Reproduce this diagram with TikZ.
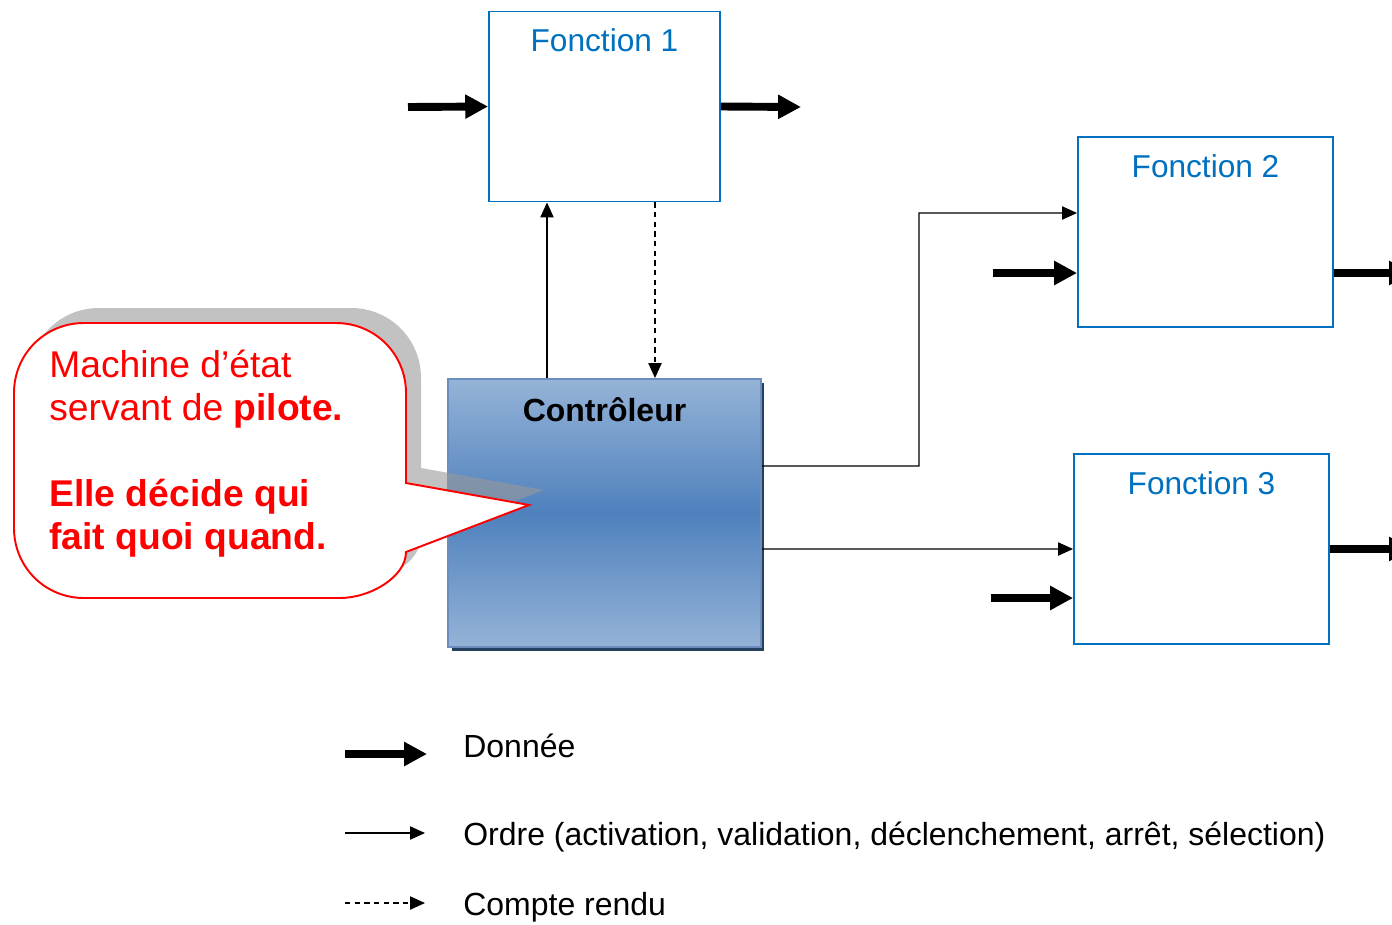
\documentclass[tikz,border=0pt]{standalone}
\usepackage{fontspec}
\setmainfont{Liberation Sans}
\usetikzlibrary{arrows.meta,shadows}

\definecolor{fctblue}{HTML}{0070C0}
\definecolor{ctrllight}{HTML}{95B3D7}
\definecolor{ctrldark}{HTML}{4F81BD}
\definecolor{ctrledge}{HTML}{6C8EBF}
\definecolor{ctrlshadow}{HTML}{24405F}

\newcommand\bubblepath{(406,483) -- (529,505) -- (406,552)
  .. controls (406,577) and (370,598) .. (340,598) -- (84,598)
  .. controls (45,598) and (14,567) .. (14,528) -- (14,393)
  .. controls (14,354) and (45,323) .. (84,323) -- (336,323)
  .. controls (375,323) and (406,354) .. (406,393) -- cycle}

\begin{document}
\begin{tikzpicture}[
    x=0.02cm, y=-0.02cm,
    fonction/.style={draw=fctblue, line width=1.1pt, fill=white,
                     minimum width=#1, minimum height=3.8cm, inner sep=0pt},
    fonction/.default=5.1cm,
    title/.style={text=fctblue, font=\fontsize{18}{21}\selectfont, anchor=base},
    controleur/.style={draw=ctrledge, line width=1.1pt,
                       top color=ctrllight, bottom color=ctrllight, middle color=ctrldark,
                       minimum width=6.26cm, minimum height=5.36cm, inner sep=0pt,
                       drop shadow={shadow xshift=0.07cm, shadow yshift=-0.08cm,
                                    fill=ctrlshadow, opacity=1}},
    data/.style={line width=4.5pt, -{Triangle[length=13pt,width=13pt]}},
    order/.style={line width=0.8pt, -{Triangle[length=8.5pt,width=7.5pt]}},
    report/.style={order, dash pattern=on 3pt off 2.5pt},
    bubble/.style={draw=red, line width=1.1pt, fill=white, line join=miter},
    bubbletext/.style={text=red, font=\fontsize{21.2}{24.4}\selectfont,
                       align=left, inner sep=0pt},
    legend/.style={font=\fontsize{18.2}{21}\selectfont, inner sep=0pt}
  ]
  \useasboundingbox (0,0) rectangle (1392,924);
  \clip (0,0) rectangle (1392,924);

  \node[fonction=4.62cm] (f1) at (604.5,106.5) {};
  \node[fonction] (f2) at (1205.5,232) {};
  \node[fonction] (f3) at (1201.5,549) {};
  \node[title] (t1) at ([yshift=-0.81cm]f1.north) {Fonction 1};
  \node[title] (t2) at ([yshift=-0.82cm]f2.north) {Fonction 2};
  \node[title] (t3) at ([yshift=-0.82cm]f3.north) {Fonction 3};

  \node[controleur] (ctrl) at (604.5,513) {};
  \node[font=\bfseries\fontsize{18.2}{21}\selectfont, anchor=base] (tc)
    at ([yshift=-0.86cm]ctrl.north) {Contrôleur};

  % donnees
  \coordinate (in1) at (408,107);
  \coordinate (out1) at (801,107);
  \coordinate (in2) at (993,273);
  \coordinate (out2) at (1412,273);
  \coordinate (in3) at (991,598);
  \coordinate (out3) at (1412,549);
  \draw[data] (in1) -- (f1.west);
  \draw[data] (f1.east) -- (out1);
  \draw[data] (in2) -- ([yshift=-0.82cm]f2.west);
  \draw[data] ([yshift=-0.82cm]f2.east) -- (out2);
  \draw[data] (in3) -- ([yshift=-0.98cm]f3.west);
  \draw[data] (f3.east) -- (out3);

  % ordres et comptes rendus
  \coordinate (up) at (547,0);
  \coordinate (dn) at (655,0);
  \coordinate (bend) at (919,213);
  \draw[order] (up |- ctrl.north) -- (up |- f1.south);
  \draw[report] (dn |- f1.south) -- (dn |- ctrl.north);
  \draw[order] ([yshift=0.94cm]ctrl.east) -| (bend) -- ([yshift=0.38cm]f2.west);
  \draw[order] ([yshift=-0.72cm]ctrl.east) -- (f3.west);

  % bulle
  \fill[black!40, opacity=0.6, shift={(15,-15)}] \bubblepath;
  \draw[bubble] \bubblepath;
  \node[bubbletext, anchor=north west] (pilote) at (49,350)
    {Machine d’état\\servant de \textbf{pilote.}\\[24.4pt]
     \textbf{Elle décide qui}\\\textbf{fait quoi quand.}};

  % legende
  \coordinate (lgA1) at (345,754);
  \coordinate (lgA2) at (427,754);
  \coordinate (lgB1) at (345,833);
  \coordinate (lgB2) at (425,833);
  \coordinate (lgC1) at (345,903);
  \coordinate (lgC2) at (425,903);
  \draw[data] (lgA1) -- (lgA2);
  \draw[order] (lgB1) -- (lgB2);
  \draw[report] (lgC1) -- (lgC2);
  \node[legend, anchor=base west] (lgdata) at (463,757) {Donnée};
  \node[legend, anchor=base west] (lgorder) at (463,845)
    {Ordre (activation, validation, déclenchement, arrêt, sélection)};
  \node[legend, anchor=base west] (lgreport) at (463,915) {Compte rendu};
\end{tikzpicture}
\end{document}
